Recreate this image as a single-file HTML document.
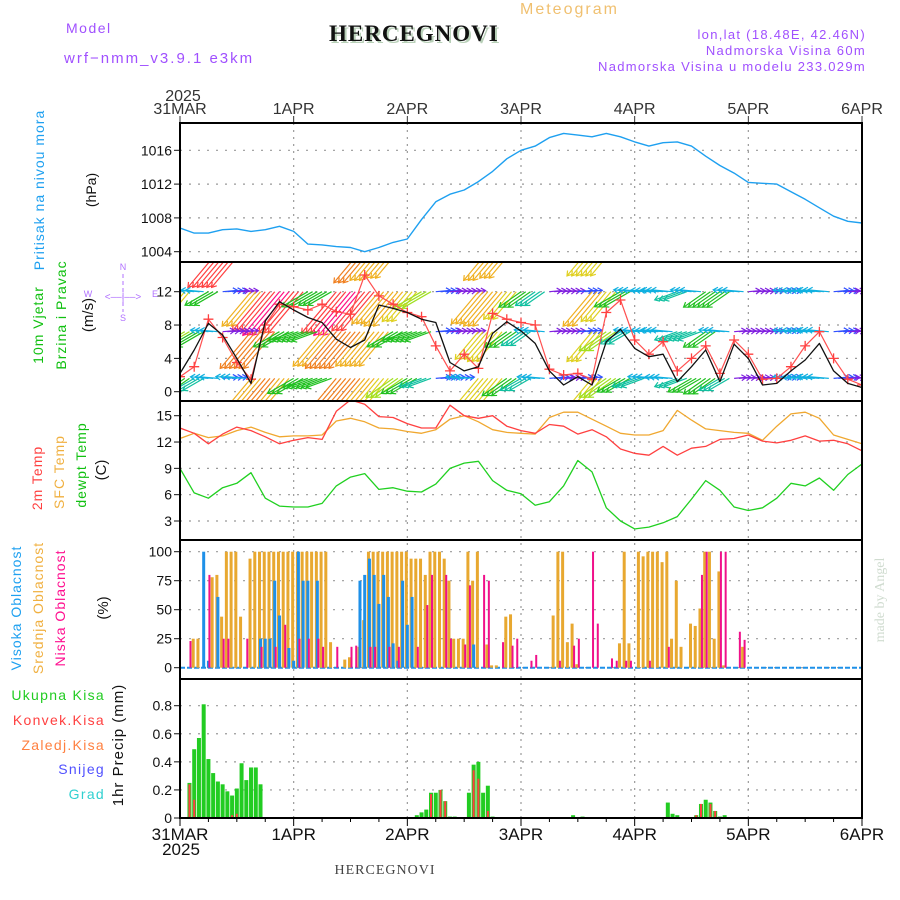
<!DOCTYPE html>
<html><head><meta charset="utf-8"><style>
html,body{margin:0;padding:0;background:#fff;}
svg{display:block;}
text{font-family:"Liberation Sans",sans-serif;}
.ser{font-family:"Liberation Serif",serif;}
.vt{letter-spacing:1px;}
</style></head><body>
<svg id="chart" width="900" height="900" viewBox="0 0 900 900" xmlns="http://www.w3.org/2000/svg">
<rect x="0" y="0" width="900" height="900" fill="#fff"/>
<text x="66" y="33" font-size="14" fill="#a050ff" letter-spacing="1.5">Model</text>
<text x="64" y="63" font-size="15" fill="#a050ff" letter-spacing="2">wrf−nmm_v3.9.1 e3km</text>
<text x="331" y="43" font-size="23" font-weight="bold" class="ser" fill="#b8d0b8" letter-spacing="1">HERCEGNOVI</text>
<text x="329" y="41" font-size="23" font-weight="bold" class="ser" fill="#111" letter-spacing="1">HERCEGNOVI</text>
<text x="520" y="14" font-size="16" fill="#f0c070" letter-spacing="2">Meteogram</text>
<text x="866" y="39" font-size="13" fill="#a050ff" text-anchor="end" letter-spacing="1.3">lon,lat (18.48E, 42.46N)</text>
<text x="866" y="55" font-size="13" fill="#a050ff" text-anchor="end" letter-spacing="1.3">Nadmorska Visina 60m</text>
<text x="866" y="71" font-size="13" fill="#a050ff" text-anchor="end" letter-spacing="1.3">Nadmorska Visina u modelu 233.029m</text>
<text x="183" y="101" font-size="16" fill="#333" text-anchor="middle">2025</text>
<g id="topdays"></g>
<g id="botdays"></g>
<text x="181" y="855" font-size="17" fill="#111" text-anchor="middle">2025</text>
<text x="385" y="874" font-size="14" class="ser" fill="#444" text-anchor="middle" letter-spacing="1">HERCEGNOVI</text>
<text transform="translate(884,600) rotate(-90)" font-size="14" class="ser" fill="#d0dcd0" text-anchor="middle">made by Angel</text>

<text class="vt" transform="translate(44,190) rotate(-90)" font-size="14" fill="#1ea0f0" text-anchor="middle">Pritisak na nivou mora</text>
<text transform="translate(96,190) rotate(-90)" font-size="14" fill="#111" text-anchor="middle">(hPa)</text>

<text class="vt" transform="translate(43,325) rotate(-90)" font-size="14" fill="#10c010" text-anchor="middle">10m Vjetar</text>
<text class="vt" transform="translate(66,315) rotate(-90)" font-size="14" fill="#10c010" text-anchor="middle">Brzina i Pravac</text>
<text transform="translate(93,315) rotate(-90)" font-size="15" fill="#111" text-anchor="middle">(m/s)</text>
<g fill="#b070ff" font-size="9" stroke="none">
<text x="123" y="270" text-anchor="middle">N</text><text x="123" y="321" text-anchor="middle">S</text>
<text x="88" y="297" text-anchor="middle">W</text><text x="155" y="297" text-anchor="middle">E</text>
<text x="123" y="300" text-anchor="middle" font-size="10">&lt;‒‒|‒‒&gt;</text>
<line x1="123" y1="274" x2="123" y2="312" stroke="#b070ff" stroke-dasharray="4,3"/>
</g>

<text class="vt" transform="translate(42,478) rotate(-90)" font-size="14" fill="#ff4040" text-anchor="middle">2m Temp</text>
<text class="vt" transform="translate(64,472) rotate(-90)" font-size="14" fill="#f0b040" text-anchor="middle">SFC Temp</text>
<text class="vt" transform="translate(86,465) rotate(-90)" font-size="14" fill="#10c010" text-anchor="middle">dewpt Temp</text>
<text transform="translate(106,470) rotate(-90)" font-size="15" fill="#111" text-anchor="middle">(C)</text>

<text class="vt" transform="translate(21,608) rotate(-90)" font-size="14" fill="#1ea0f0" text-anchor="middle">Visoka Oblacnost</text>
<text class="vt" transform="translate(43,608) rotate(-90)" font-size="14" fill="#f0b040" text-anchor="middle">Srednja Oblacnost</text>
<text class="vt" transform="translate(65,608) rotate(-90)" font-size="14" fill="#ff1090" text-anchor="middle">Niska Oblacnost</text>
<text transform="translate(108,608) rotate(-90)" font-size="15" fill="#111" text-anchor="middle">(%)</text>

<text x="105" y="700" font-size="14" fill="#22cc22" text-anchor="end" letter-spacing="1.3">Ukupna  Kisa</text>
<text x="105" y="725" font-size="14" fill="#ff4040" text-anchor="end" letter-spacing="1.3">Konvek.Kisa</text>
<text x="105" y="750" font-size="14" fill="#ff8040" text-anchor="end" letter-spacing="1.3">Zaledj.Kisa</text>
<text x="105" y="774" font-size="14" fill="#5050ff" text-anchor="end" letter-spacing="1.3">Snijeg</text>
<text x="105" y="799" font-size="14" fill="#30d0d0" text-anchor="end" letter-spacing="1.3">Grad</text>
<text class="vt" transform="translate(123,745) rotate(-90)" font-size="15" fill="#111" text-anchor="middle">1hr Precip (mm)</text>

<g id="grid"></g>
<g id="marks"></g>
<g id="axes"></g>
</svg>
<script>
// ---- data ----
const dayLabels = ["31MAR","1APR","2APR","3APR","4APR","5APR","6APR"];
const pressTicks = [1004,1008,1012,1016];
const windTicks = [0,4,8,12];
const tempTicks = [3,6,9,12,15];
const cloudTicks = [0,25,50,75,100];
const precipTicks = [0,0.2,0.4,0.6,0.8];
// 3-hourly series, hours 0..144
const pressure = [1006.8,1006.2,1006.2,1006.6,1006.7,1006.4,1006.6,1007.0,1006.4,1004.9,1004.8,1004.6,1004.5,1004.0,1004.5,1005.1,1005.5,1007.8,1009.9,1010.8,1011.3,1012.3,1013.5,1015.0,1016.0,1016.5,1017.5,1018.0,1017.8,1017.6,1018.0,1017.6,1017.0,1016.5,1016.9,1017.0,1016.5,1015.3,1014.2,1013.3,1012.2,1012.1,1012.0,1011.1,1010.2,1009.2,1008.2,1007.6,1007.4];
const windSpeed = [2.2,5.0,8.2,6.8,4.0,1.0,8.5,10.8,9.8,8.9,8.3,6.3,5.3,6.2,10.4,10.0,9.5,8.7,8.3,3.5,2.5,3.0,7.0,8.4,7.3,5.8,2.5,0.8,1.8,0.8,6.0,7.5,5.2,4.2,4.5,1.2,3.0,5.0,1.2,5.7,4.0,0.8,1.0,2.5,3.8,5.8,2.5,1.0,0.5];
const windGust = [1.8,3.0,8.7,6.5,3.5,1.5,8.0,10.5,10.2,9.8,10.5,9.6,9.3,14.0,11.5,10.5,9.5,9.0,5.5,2.5,4.5,2.8,9.4,8.7,8.3,8.0,2.7,2.0,2.2,1.5,9.5,11.0,6.2,4.5,6.0,2.5,4.0,5.5,2.2,6.2,4.5,1.5,1.6,3.0,5.5,7.2,4.0,1.5,0.8];
const temp2m = [13.6,13.0,11.8,12.9,13.7,13.3,12.6,11.8,12.2,12.5,12.3,15.5,16.8,16.3,14.9,14.8,14.1,13.6,13.6,16.2,15.0,14.7,15.0,13.8,13.3,13.0,14.0,13.8,12.9,13.4,12.6,11.2,10.7,10.5,11.5,10.5,11.3,11.5,12.3,12.4,12.8,12.1,11.9,12.2,12.7,12.1,12.2,11.8,11.0];
const tempSfc = [12.4,13.0,12.5,12.7,13.3,13.7,13.1,12.6,12.7,12.7,12.8,14.4,14.7,14.3,13.6,13.5,13.2,13.0,13.4,14.6,15.0,14.3,13.4,13.1,13.0,12.9,14.8,15.4,15.4,14.6,13.8,13.0,12.8,12.8,13.3,15.6,14.5,13.5,13.3,13.1,13.0,12.2,13.8,15.2,15.4,14.7,12.8,12.3,11.8];
const dewpt = [9.0,6.2,5.6,6.8,7.3,8.5,5.6,4.7,4.6,4.6,5.0,7.0,8.0,8.4,6.6,6.8,6.4,6.3,7.2,9.0,9.6,9.8,7.6,6.5,6.1,4.8,5.2,7.0,9.9,8.6,4.5,3.0,2.1,2.3,2.8,3.5,5.5,7.6,6.5,4.6,4.2,4.5,5.6,7.3,7.0,7.9,6.5,8.3,9.5];
// wind arrows, 3-hourly: speed and direction-from (deg)
const band0Speed = [0,0,0,16,16,0,0,0,0,0,0,0,0,14,13,12,0,0,0,0,0,0,13,12,0,0,0,0,0,11,11,0,0,0,0,0,0,0,0,0,0,0,0,0,0,0,0,0,0];
const band0Dir = [40,40,40,40,40,40,40,40,40,40,40,40,40,40,40,40,40,40,40,40,40,40,40,40,40,40,40,40,40,40,40,40,40,40,40,40,40,40,40,40,40,40,40,40,40,40,40,40,40];
const band1Speed = [10,4,7,3,2,13,15,17,16,8,7,16,17,15,12,13,11,9,3,2,2,12,13,10,7,6,2,2,3,13,11,8,5,4,5,6,5,7,7,5,2,2,3,4,4,5,3,2,2];
const band1Dir = [40,95,60,265,265,40,40,40,40,60,60,40,40,40,40,40,40,60,265,265,265,40,40,40,55,55,265,265,265,40,40,60,95,95,95,70,95,55,55,95,265,265,265,95,95,95,265,265,265];
const band2Speed = [9,8,4,2,2,14,14,8,7,7,13,14,14,13,13,8,7,7,3,2,2,10,11,7,6,5,2,2,3,11,9,6,5,4,5,6,6,7,5,2,2,2,3,4,4,5,3,2,2];
const band2Dir = [60,60,95,265,265,40,40,60,70,70,40,40,40,40,40,60,70,70,265,265,265,40,40,55,55,95,265,265,265,40,55,60,95,95,95,70,70,55,95,265,265,265,265,95,95,95,265,265,265];
const band3Speed = [8,6,4,3,5,13,14,13,8,7,7,14,14,13,11,9,8,6,3,3,4,10,11,8,6,4,3,2,3,11,9,7,6,5,4,6,7,7,6,2,2,2,3,4,4,5,3,2,2];
const band3Dir = [55,60,95,265,95,40,40,40,60,70,70,40,40,40,40,55,60,70,265,265,95,40,40,55,60,95,265,265,265,40,55,60,70,95,95,70,60,55,60,265,265,265,265,95,95,95,265,265,265];
// hourly cloud bars (hour, percent)
const midHours = [3,4,7,8,9,10,11,12,13,15,16,17,18,19,20,21,22,23,24,25,26,27,28,29,30,31,32,35,36,38,39,40,41,42,43,44,45,46,47,48,49,50,51,52,53,54,55,56,57,58,59,60,61,62,63,65,66,67,69,70,79,80,81,82,83,84,93,94,95,97,98,99,100,101,102,103,104,105,106,108,109,110,111,112,113,114,115,119];
const midVals = [25,25,78,80,44,100,100,100,44,94,100,100,100,100,100,100,100,100,100,100,100,100,100,100,100,100,22,7,9,18,41,100,100,100,100,100,100,100,100,100,94,94,94,80,100,100,100,94,75,25,25,25,100,75,100,20,2,2,44,46,45,100,100,22,38,3,21,100,21,100,96,100,100,100,91,100,25,75,18,38,36,51,100,100,25,83,2,18];
const lowHours = [2,6,9,10,14,17,20,22,25,27,29,30,33,36,37,40,41,44,46,50,52,53,56,57,60,61,64,65,68,70,71,74,75,80,83,84,87,88,91,92,94,95,99,103,110,111,114,115,118,119];
const lowVals = [23,80,25,25,25,18,18,37,25,25,25,18,18,18,19,18,18,18,18,18,54,80,80,25,20,71,80,75,22,19,25,6,11,6,19,25,100,38,8,6,6,6,6,18,80,100,100,100,31,24];
const highHours = [5,6,8,17,18,19,20,21,23,24,25,26,27,29,38,39,40,41,42,43,44,45,46,47,48,49,62];
const highVals = [100,6,61,25,25,25,75,45,17,6,100,75,75,75,75,80,94,80,55,80,61,21,6,75,37,61,20];
// hourly precipitation (hour, mm)
const rainHours = [2,3,4,5,6,7,8,9,10,11,12,13,14,15,16,17,50,51,52,53,54,55,56,57,58,61,62,63,64,65,66,83,85,103,104,105,109,110,111,112,113,114,115];
const rainVals = [0.25,0.49,0.57,0.81,0.42,0.32,0.26,0.24,0.19,0.16,0.21,0.39,0.27,0.36,0.36,0.24,0.02,0.04,0.06,0.18,0.18,0.2,0.12,0.01,0.01,0.18,0.38,0.40,0.18,0.23,0.01,0.02,0.01,0.11,0.03,0.02,0.02,0.10,0.13,0.11,0.05,0.01,0.02];
const convHours = [2,3,11,12,53,55,56,62,63,65,109,110,112,113];
const convVals = [0.24,0.13,0.02,0.03,0.17,0.2,0.12,0.34,0.28,0.05,0.02,0.1,0.1,0.05];

// ---- scales ----
const X0=180, X1=862, HOURS=144;
const xH = h => X0 + h*(X1-X0)/HOURS;
const lin = (d0,d1,r0,r1) => v => r0 + (v-d0)*(r1-r0)/(d1-d0);
const yP = lin(1004,1016,251.7,150.3);
const yW = lin(0,12,391.7,291.7);
const yT = lin(3,15,521,415.7);
const yC = lin(0,100,667.7,551.7);
const yR = lin(0,0.8,818,705.7);
const panels = [[123,262],[262,401],[401,540],[540,679],[679,818]];

const NS="http://www.w3.org/2000/svg";
function mk(tag, attrs, parent){const e=document.createElementNS(NS,tag);for(const k in attrs)e.setAttribute(k,attrs[k]);parent.appendChild(e);return e;}
const grid=document.getElementById('grid'), marks=document.getElementById('marks'), axes=document.getElementById('axes');

const defs=mk('defs',{},document.getElementById('chart'));
panels.forEach((p,i)=>{const c=mk('clipPath',{id:'clip'+i},defs);mk('rect',{x:X0,y:p[0],width:X1-X0,height:p[1]-p[0]},c);});

dayLabels.forEach((lab,i)=>{
  const x=xH(i*24);
  if(i>0&&i<6){const l=mk('line',{x1:x,y1:123,x2:x,y2:818,stroke:'#999','stroke-dasharray':'2,5','stroke-width':1.2},grid);
  
  }
  const t=mk('text',{x:x,y:114,'font-size':16,fill:'#333','text-anchor':'middle'},document.getElementById('topdays'));
  t.textContent=lab;
  
  
  mk('line',{x1:x,y1:116,x2:x,y2:123,stroke:'#333'},axes);
  const b=mk('text',{x:x,y:840,'font-size':17,fill:'#111','text-anchor':'middle'},document.getElementById('botdays'));
  b.textContent=lab;
  
  
});
function yAxis(ticks,sc,fmt,name){
  ticks.forEach(v=>{
    const y=sc(v);
    const g=mk('line',{x1:X0,y1:y,x2:X1,y2:y,stroke:'#999','stroke-dasharray':'2,7','stroke-width':1.2},grid);
    
    
    mk('line',{x1:X0-6,y1:y,x2:X0,y2:y,stroke:'#111'},axes);
    const t=mk('text',{x:X0-8,y:y+5,'font-size':14,fill:'#111','text-anchor':'end'},axes);
    t.textContent=fmt(v);
    
    
  });
}
yAxis(pressTicks,yP,v=>v,'pressure');
yAxis(windTicks,yW,v=>v,'wind');
yAxis(tempTicks,yT,v=>v,'temp');
yAxis(cloudTicks,yC,v=>v,'cloud');
yAxis(precipTicks,yR,v=>v===0?'0':v.toFixed(1),'precip');

function poly(vals,sc,color,w,clip,name){
  const pts=vals.map((v,i)=>xH(i*3).toFixed(1)+','+sc(v).toFixed(1)).join(' ');
  const p=mk('polyline',{points:pts,fill:'none',stroke:color,'stroke-width':w,'clip-path':'url(#clip'+clip+')','stroke-linejoin':'round'},marks);
  
  
  return p;
}
poly(pressure,yP,'#1ea0f0',1.4,0,'pressure-line');

function spdColor(s){
  if(s<2.5)return '#8020e0'; if(s<4)return '#3050ff'; if(s<5.5)return '#10b0e0';
  if(s<7)return '#10c0a0'; if(s<8.5)return '#20c020'; if(s<10)return '#a0e020';
  if(s<11.5)return '#e0d020'; if(s<13.5)return '#f0b020'; if(s<15)return '#f08020';
  if(s<16.5)return '#ff4040'; return '#ff1080';
}
const bands=[[band0Speed,band0Dir,246],[band1Speed,band1Dir,yW(12)],[band2Speed,band2Dir,yW(7.2)],[band3Speed,band3Dir,yW(1.6)]];
const ag=mk('g',{'clip-path':'url(#clip1)'},marks);


bands.forEach(b=>{
  const [sp,dr,y0]=b;
  sp.forEach((s,i)=>{
    if(s<=0)return;
    for(let k=0;k<3;k++){
      const h=i*3+k; if(h>HOURS)break;
      const x0=xH(h), rad=dr[i]*Math.PI/180, L=s*3+6;
      const dx=-Math.sin(rad), dy=Math.cos(rad);
      const x1=x0+dx*L, y1=y0+dy*L, c=spdColor(s);
      const a=mk('line',{x1:x0,y1:y0,x2:x1,y2:y1,stroke:c,'stroke-width':1.2},ag);
      
      
      const hx=-dx*5, hy=-dy*5;
      mk('polyline',{points:`${x1+hx*0.9-hy*0.6},${y1+hy*0.9+hx*0.6} ${x1},${y1} ${x1+hx*0.9+hy*0.6},${y1+hy*0.9-hx*0.6}`,fill:'none',stroke:c,'stroke-width':1.2},ag);
    }
  });
});
poly(windGust,yW,'#ff5050',1.2,1,'wind-gust-line');
const cg=mk('g',{'clip-path':'url(#clip1)'},marks);


windGust.forEach((v,i)=>{
  const x=xH(i*3), y=yW(v);
  const m=mk('path',{d:`M${x-5},${y}H${x+5}M${x},${y-5}V${y+5}`,stroke:'#ff4040','stroke-width':1.3},cg);
  
  
});
poly(windSpeed,yW,'#111',1.3,1,'wind-speed-line');

poly(tempSfc,yT,'#f0a830',1.3,2,'sfc-temp-line');
poly(temp2m,yT,'#ff4040',1.3,2,'temp-2m-line');
poly(dewpt,yT,'#20d020',1.3,2,'dewpt-line');

const zl=mk('line',{x1:X0,y1:yC(0),x2:X1,y2:yC(0),stroke:'#1e90e8','stroke-width':2,'stroke-dasharray':'5,2'},marks);


function bars(hours,vals,sc,color,w,off,name){
  hours.forEach((h,i)=>{
    const x=xH(h)+off, y=sc(vals[i]), y0=sc(0);
    const r=mk('rect',{x:x-w/2,y:Math.min(y,y0),width:w,height:Math.abs(y0-y),fill:color},marks);
    
    
  });
}
bars(midHours,midVals,yC,'#e8a830',3,-1,'mid-cloud-bar');
bars(highHours,highVals,yC,'#1e90e8',3,0,'high-cloud-bar');
bars(lowHours,lowVals,yC,'#f0108a',2,1,'low-cloud-bar');
bars(rainHours,rainVals,yR,'#22cc22',4,0,'total-rain-bar');
bars(convHours,convVals,yR,'#ff4040',2,0,'convective-rain-bar');

panels.forEach((p,i)=>{
  const r=mk('rect',{x:X0,y:p[0],width:X1-X0,height:p[1]-p[0],fill:'none',stroke:'#000','stroke-width':2},axes);
  
  
});
for(let h=0;h<=HOURS;h+=6){mk('line',{x1:xH(h),y1:818,x2:xH(h),y2:h%24?822:826,stroke:'#000'},axes);}
</script>
</body></html>
